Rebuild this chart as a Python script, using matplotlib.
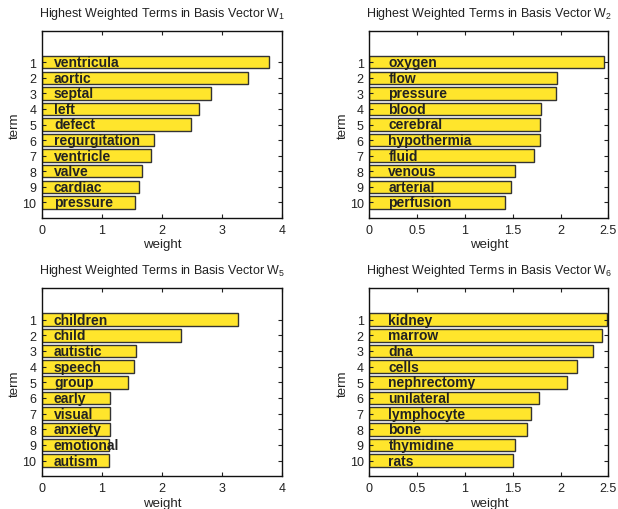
import matplotlib
matplotlib.use("Agg")
import matplotlib.pyplot as plt

plt.rcParams['font.family'] = ['Liberation Sans', 'DejaVu Sans']
plt.rcParams['mathtext.fontset'] = 'custom'
plt.rcParams['mathtext.rm'] = 'Liberation Sans'
plt.rcParams['mathtext.it'] = 'Liberation Sans'

terms_w1 = ["ventricula", "aortic", "septal", "left", "defect", "regurgitation",
            "ventricle", "valve", "cardiac", "pressure"]
weights_w1 = [3.79, 3.44, 2.82, 2.61, 2.49, 1.87, 1.81, 1.66, 1.62, 1.55]

terms_w2 = ["oxygen", "flow", "pressure", "blood", "cerebral", "hypothermia",
            "fluid", "venous", "arterial", "perfusion"]
weights_w2 = [2.46, 1.96, 1.95, 1.80, 1.79, 1.785, 1.72, 1.52, 1.48, 1.42]

terms_w5 = ["children", "child", "autistic", "speech", "group", "early",
            "visual", "anxiety", "emotional", "autism"]
weights_w5 = [3.26, 2.31, 1.57, 1.54, 1.43, 1.13, 1.13, 1.13, 1.12, 1.12]

terms_w6 = ["kidney", "marrow", "dna", "cells", "nephrectomy", "unilateral",
            "lymphocyte", "bone", "thymidine", "rats"]
weights_w6 = [2.49, 2.43, 2.34, 2.17, 2.07, 1.78, 1.69, 1.65, 1.52, 1.50]

ranks = list(range(1, 11))

panels = [
    ("1", terms_w1, weights_w1, 4, [0, 1, 2, 3, 4], ["0", "1", "2", "3", "4"]),
    ("2", terms_w2, weights_w2, 2.5, [0, 0.5, 1, 1.5, 2, 2.5], ["0", "0.5", "1", "1.5", "2", "2.5"]),
    ("5", terms_w5, weights_w5, 4, [0, 1, 2, 3, 4], ["0", "1", "2", "3", "4"]),
    ("6", terms_w6, weights_w6, 2.5, [0, 0.5, 1, 1.5, 2, 2.5], ["0", "0.5", "1", "1.5", "2", "2.5"]),
]

positions = [
    [42/618, (510-219)/510, 240/618, 187/510],
    [369.3/618, (510-219)/510, 239/618, 187/510],
    [42/618, (510-477.3)/510, 240/618, 188/510],
    [369.3/618, (510-477.3)/510, 239/618, 188/510],
]

fig = plt.figure(figsize=(6.18, 5.10), dpi=100)
bar_color = "#FFE52C"
text_color = "#222222"

for (idx, terms, weights, xmax, xt, xtl), pos in zip(panels, positions):
    ax = fig.add_axes(pos)
    ax.barh(ranks, weights, height=0.8, color=bar_color, edgecolor="#333333", linewidth=1.0)
    for r, t in zip(ranks, terms):
        ax.text(0.2, r, t, fontsize=10, fontweight='bold', color=text_color,
                va='center', ha='left')
    ax.set_xlim(0, xmax)
    ax.set_ylim(11, -1)
    ax.set_yticks(ranks)
    ax.set_yticklabels([str(r) for r in ranks])
    ax.set_xticks(xt)
    ax.set_xticklabels(xtl)
    ax.tick_params(direction='in', length=3, width=0.8, top=True, right=True,
                   labelsize=9, colors='#222222', pad=4)
    for s in ax.spines.values():
        s.set_linewidth(1.0)
        s.set_color('#111111')
    ax.set_xlabel("weight", fontsize=9.5, color='#222222', labelpad=2)
    ax.set_ylabel("term", fontsize=9.5, color='#222222', labelpad=1)
    ax.set_title("Highest Weighted Terms in Basis Vector W$_{%s}$" % idx,
                 fontsize=9, color='#222222', pad=11)

fig.savefig("out.png", dpi=100)
